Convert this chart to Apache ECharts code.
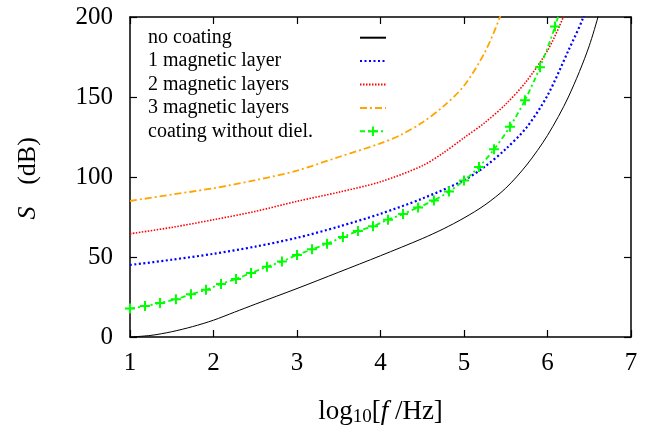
<!DOCTYPE html>
<html><head><meta charset="utf-8">
<script src="https://cdn.jsdelivr.net/npm/echarts@6/dist/echarts.min.js"></script>
<style>html,body{margin:0;padding:0;background:#fff}#c{width:649px;height:432px}</style>
</head><body><div id="c"></div>
<script>
const xTicks = [1, 2, 3, 4, 5, 6, 7];
const yTicks = [0, 50, 100, 150, 200];
const seriesNames = ['no coating', '1 magnetic layer', '2 magnetic layers', '3 magnetic layers', 'coating without diel.'];

const xNone = [1, 1.25, 1.5, 1.75, 2, 2.25, 2.5, 3, 3.5, 4, 4.5, 4.75, 5, 5.25, 5.5, 5.75, 6, 6.25, 6.5, 6.7];
const yNone = [0, 1, 3.3, 6.5, 10.5, 15.5, 20.5, 30.3, 40.5, 50.8, 61.5, 67.5, 74.4, 82.5, 93, 107.5, 126, 150, 182, 218];

const xOne = [1, 1.5, 2, 2.5, 3, 3.5, 4, 4.5, 5, 5.25, 5.5, 5.75, 6, 6.25, 6.43, 6.6];
const yOne = [45, 48.3, 52, 56.5, 62, 69, 77, 86.5, 98, 106.5, 117.5, 131, 151, 179, 200, 228];

const xTwo = [1, 1.5, 2, 2.5, 3, 3.5, 4, 4.5, 4.75, 5, 5.25, 5.5, 5.75, 6, 6.19, 6.35];
const yTwo = [64.5, 68.5, 73.3, 78.5, 84.8, 90.5, 97, 107, 115, 124.5, 134, 145.5, 160, 179, 200, 222];

const xThree = [1, 1.5, 2, 2.5, 3, 3.5, 4, 4.25, 4.5, 4.75, 5, 5.25, 5.43, 5.55];
const yThree = [85, 89, 93, 98, 104, 112.5, 121, 126.5, 134, 144, 157, 178, 200, 220];

const xNoDiel = [1.00, 1.18, 1.36, 1.55, 1.73, 1.91, 2.09, 2.27, 2.45, 2.64, 2.82, 3.00, 3.18, 3.36, 3.55,
                 3.73, 3.91, 4.09, 4.27, 4.45, 4.64, 4.82, 5.00, 5.18, 5.36, 5.55, 5.73, 5.91, 6.09, 6.27];
const yNoDiel = [17.8, 19.3, 21.3, 23.6, 26.7, 29.5, 33.2, 36.3, 40.0, 43.9, 47.2, 51.3, 54.8, 58.3, 62.5,
                 66.2, 69.2, 73.3, 76.8, 81.0, 85.3, 90.9, 97.8, 106.3, 117.3, 131.4, 148.0, 168.6, 194.0, 225.0];

function pairs(xs, ys) { return xs.map((x, i) => [x, ys[i]]); }

const FONT = 'Liberation Serif';
const plus = 'path://M4,0H6V4H10V6H6V10H4V6H0V4H4Z';

const chart = echarts.init(document.getElementById('c'), null, {renderer: 'canvas'});
const axisCommon = {
  type: 'value',
  axisLine: {show: true, onZero: false, lineStyle: {color: '#000', width: 1.5}},
  axisTick: {show: true, inside: true, length: 7, lineStyle: {color: '#000', width: 1.2}},
  splitLine: {show: false}
};
chart.setOption({
  animation: false,
  backgroundColor: '#fff',
  grid: {left: 130, right: 18, top: 17, bottom: 92, containLabel: false},
  graphic: [
    {type: 'text', x: 28, y: 213, rotation: Math.PI / 2,
     style: {text: 'S', font: 'italic 26px "Liberation Serif"', fill: '#000', align: 'center', verticalAlign: 'middle'}},
    {type: 'text', x: 28, y: 161, rotation: Math.PI / 2,
     style: {text: '(dB)', font: '26px "Liberation Serif"', fill: '#000', align: 'center', verticalAlign: 'middle'}}
  ],
  xAxis: [
    Object.assign({}, axisCommon, {
      position: 'bottom', min: xTicks[0], max: xTicks[xTicks.length - 1], interval: 1,
      axisLabel: {color: '#000', fontFamily: FONT, fontSize: 25, margin: 14},
      name: '{a|log}{s|10}{a|[}{i|f}{a| /Hz]}', nameLocation: 'middle', nameGap: 59,
      nameTextStyle: {fontFamily: FONT, fontSize: 27, color: '#000', rich: {
        a: {fontFamily: FONT, fontSize: 27, color: '#000'},
        i: {fontFamily: FONT, fontSize: 27, fontStyle: 'italic', color: '#000'},
        s: {fontFamily: FONT, fontSize: 19, color: '#000', padding: [12, 0, 0, 0]}
      }}
    }),
    Object.assign({}, axisCommon, {
      position: 'top', min: xTicks[0], max: xTicks[xTicks.length - 1], interval: 1,
      axisLabel: {show: false}
    })
  ],
  yAxis: [
    Object.assign({}, axisCommon, {
      position: 'left', min: yTicks[0], max: yTicks[yTicks.length - 1], interval: 50,
      axisLabel: {color: '#000', fontFamily: FONT, fontSize: 25, margin: 17}
    }),
    Object.assign({}, axisCommon, {
      position: 'right', min: yTicks[0], max: yTicks[yTicks.length - 1], interval: 50,
      axisLabel: {show: false}
    })
  ],
  legend: {
    orient: 'vertical', left: 143, top: 21, align: 'right',
    itemWidth: 26, itemHeight: 12, itemGap: 0,
    formatter: n => '{t|' + n + '}',
    textStyle: {color: '#000', fontFamily: FONT, fontSize: 20,
      rich: {t: {width: 207, align: 'left', fontFamily: FONT, fontSize: 20, color: '#000', lineHeight: 23.4, height: 23.4}}},
    data: seriesNames.map((n, i) => i < 4 ? {name: n, itemStyle: {opacity: 0}} : {name: n})
  },
  series: [
    {name: seriesNames[0], type: 'line', data: pairs(xNone, yNone), smooth: 0.3, symbol: 'none',
     lineStyle: {color: '#000', width: 1, type: 'solid'}, itemStyle: {color: '#000'}},
    {name: seriesNames[1], type: 'line', data: pairs(xOne, yOne), smooth: 0.3, symbol: 'none',
     lineStyle: {color: '#0000ff', width: 2.2, type: [2, 2.5]}, itemStyle: {color: '#0000ff'}},
    {name: seriesNames[2], type: 'line', data: pairs(xTwo, yTwo), smooth: 0.3, symbol: 'none',
     lineStyle: {color: '#ff0000', width: 1.6, type: [1.5, 1.5]}, itemStyle: {color: '#ff0000'}},
    {name: seriesNames[3], type: 'line', data: pairs(xThree, yThree), smooth: 0.3, symbol: 'none',
     lineStyle: {color: '#ffa500', width: 1.8, type: [7, 3, 2, 3]}, itemStyle: {color: '#ffa500'}},
    {name: seriesNames[4], type: 'line', data: pairs(xNoDiel, yNoDiel), smooth: 0.3,
     symbol: plus, symbolSize: 10, showAllSymbol: true,
     lineStyle: {color: '#00ff00', width: 1.8, type: [5, 3, 2, 3]}, itemStyle: {color: '#00ff00'}}
  ]
});
</script></body></html>
